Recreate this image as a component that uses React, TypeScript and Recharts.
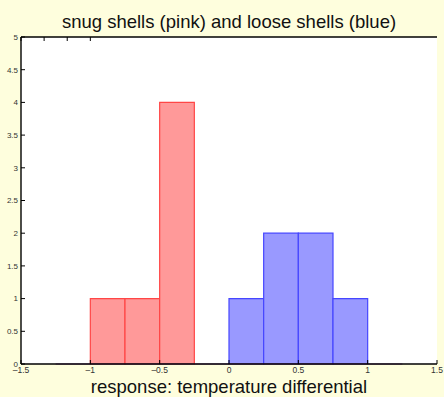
import React from 'react';
import { ComposedChart, XAxis, YAxis, ReferenceArea, ReferenceLine, CartesianGrid } from 'recharts';

const binEdges = [-1.25, -1, -0.75, -0.5, -0.25, 0, 0.25, 0.5, 0.75, 1, 1.25];
const snugCounts = [0, 1, 1, 4, 0, 0, 0, 0, 0, 0];
const looseCounts = [0, 0, 0, 0, 0, 1, 2, 2, 1, 0];
const xTicks = [-1.5, -1, -0.5, 0, 0.5, 1, 1.5];
const yTicks = [0, 0.5, 1, 1.5, 2, 2.5, 3, 3.5, 4, 4.5, 5];
const xDomain = [-1.5, 1.5];
const yDomain = [0, 5];
const titleText = 'snug shells (pink) and loose shells (blue)';
const xLabelText = 'response: temperature differential';

const FONT = '"Liberation Sans", Arial, Helvetica, sans-serif';
const fmt = (v: number) => String(v).replace('-', '\u2013');
const blank = () => '';

const data = binEdges.slice(0, -1).map((e, i) => ({ x: (e + binEdges[i + 1]) / 2, snug: snugCounts[i], loose: looseCounts[i] }));

const series = [
  { counts: snugCounts, fill: '#ff9999', stroke: '#ff4646' },
  { counts: looseCounts, fill: '#9999ff', stroke: '#4646ff' },
];

export default function App() {
  return (
    <div style={{ position: 'absolute', left: 0, top: 0, width: 444, height: 397, background: '#fefedd' }}>
      <ComposedChart width={444} height={397} data={data} margin={{ top: 0, right: 7, bottom: 0, left: 0 }}>
        <CartesianGrid fill="#ffffff" fillOpacity={1} stroke="#ffffff" strokeOpacity={0} />
        <XAxis
          xAxisId={0}
          dataKey="x"
          type="number"
          domain={xDomain}
          ticks={xTicks}
          allowDataOverflow
          tickFormatter={fmt}
          height={33}
          tickSize={-4}
          tickMargin={7}
          axisLine={{ stroke: '#000', strokeWidth: 1.4 }}
          tickLine={{ stroke: '#000' }}
          tick={{ fontSize: 8.5, fill: '#333', fontFamily: FONT }}
          label={{ value: xLabelText, position: 'insideBottom', offset: 4, style: { fontSize: 18.5, fill: '#111', fontFamily: FONT } }}
        />
        <XAxis
          xAxisId="top"
          orientation="top"
          type="number"
          domain={xDomain}
          ticks={xTicks}
          tickFormatter={blank}
          height={37}
          tickSize={-4}
          axisLine={{ stroke: '#000', strokeWidth: 1.4 }}
          tickLine={{ stroke: '#000' }}
          label={{ value: titleText, position: 'insideTop', offset: 15, style: { fontSize: 18.5, fill: '#111', fontFamily: FONT } }}
        />
        <YAxis
          yAxisId={0}
          type="number"
          domain={yDomain}
          ticks={yTicks}
          allowDataOverflow
          width={21}
          tickSize={-4}
          tickMargin={7}
          axisLine={{ stroke: '#000', strokeWidth: 1.4 }}
          tickLine={{ stroke: '#000' }}
          tick={{ fontSize: 8, fill: '#333', fontFamily: FONT }}
        />
        <YAxis
          yAxisId="right"
          orientation="right"
          type="number"
          domain={yDomain}
          ticks={yTicks}
          tickFormatter={blank}
          width={0}
          tickSize={-4}
          axisLine={{ stroke: '#000', strokeWidth: 1.4 }}
          tickLine={{ stroke: '#000' }}
        />
        <ReferenceArea x1={xDomain[0]} x2={xDomain[1]} y1={yDomain[0]} y2={yDomain[1]} ifOverflow="visible" fill="#ffffff" fillOpacity={1} strokeOpacity={0} />
        {series.map((s, si) =>
          s.counts.map((c, i) =>
            c > 0 ? (
              <ReferenceArea
                key={`a${si}-${i}`}
                x1={binEdges[i]}
                x2={binEdges[i + 1]}
                y1={0}
                y2={c}
                fill={s.fill}
                fillOpacity={1}
                stroke={s.stroke}
                strokeWidth={1.2}
              />
            ) : (
              <ReferenceLine
                key={`l${si}-${i}`}
                segment={[{ x: binEdges[i], y: 0 }, { x: binEdges[i + 1], y: 0 }]}
                stroke={s.stroke}
                strokeOpacity={0.5}
                strokeWidth={1.2}
              />
            )
          )
        )}
      </ComposedChart>
    </div>
  );
}
